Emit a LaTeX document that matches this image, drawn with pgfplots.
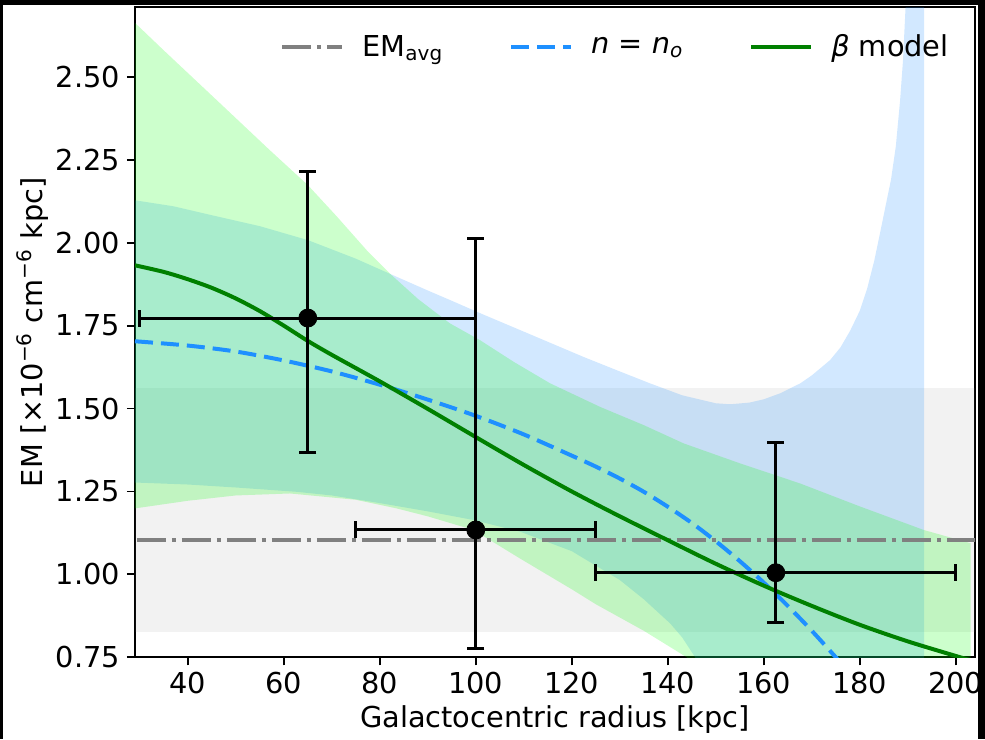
\documentclass[border=0pt]{standalone}
\usepackage{fontspec}
\setmainfont{DejaVu Sans}
\usepackage{pgfplots}
\pgfplotsset{compat=1.18}
\usetikzlibrary{backgrounds}

\definecolor{lime}{RGB}{0,255,0}
\definecolor{dodger}{RGB}{30,144,255}
\definecolor{mplgreen}{RGB}{0,128,0}
\definecolor{mplgray}{RGB}{128,128,128}

\newcommand{\fs}{\fontsize{14.4}{17}\selectfont}

\begin{document}
\begin{tikzpicture}
\begin{axis}[
    name=ax,
    scale only axis,
    width=420pt, height=325pt,
    xmin=29, xmax=204, ymin=0.75, ymax=2.71,
    xtick={40,60,...,200},
    ytick={0.75,1.00,1.25,1.50,1.75,2.00,2.25,2.50},
    yticklabel style={/pgf/number format/.cd, fixed, fixed zerofill, precision=2},
    /pgf/number format/assume math mode=true,
    tick label style={font=\fs},
    label style={font=\fs},
    tick pos=left,
    tick align=outside,
    major tick length=4pt,
    tick style={black, line width=0.9pt},
    axis line style={black, line width=0.9pt},
    xlabel={Galactocentric radius [kpc]},
    ylabel={EM [×10\textsuperscript{−6} cm\textsuperscript{−6} kpc]},
    xlabel style={at={(axis description cs:0.5,-0.0965)}, anchor=center},
    ylabel style={at={(axis description cs:-0.122,0.5)}, anchor=center},
    legend columns=3,
    legend style={draw=none, fill=none, font=\fs,
        at={(rel axis cs:0.981,0.971)}, anchor=north east,
        /tikz/every even column/.append style={column sep=31pt}},
    legend image code/.code={\draw[#1] (0pt,0pt) -- (30pt,0pt); \path (37pt,0pt);},
]

% grey band
\addplot[draw=none, fill=mplgray, fill opacity=0.1, forget plot]
  coordinates {(20,0.826) (210,0.826) (210,1.561) (20,1.561)} -- cycle;

% n = n_o band
\addplot[draw=none, fill=dodger, fill opacity=0.2, forget plot] coordinates {
 (29,2.128) (37,2.110) (45,2.083) (55,2.050) (65,2.008) (75,1.952) (82,1.907)
 (90,1.856) (95,1.825) (101,1.787) (110,1.732) (122.4,1.656) (130,1.612)
 (136.3,1.576) (143,1.540) (150,1.516) (153,1.513) (157,1.518) (160,1.528)
 (163.4,1.546) (167.6,1.576) (170,1.600) (173.8,1.646) (176,1.685)
 (178,1.735) (180,1.795) (181.5,1.860) (183,1.945) (184.2,2.028)
 (185.5,2.120) (186.5,2.190) (187.5,2.290) (188.4,2.430) (189,2.550)
 (189.5,2.700) (190.3,2.950) (191.5,3.300) (193.4,4.000)
 (193.4,0.5) (150,0.5) (147,0.70) (145.7,0.75) (143,0.81) (140.5,0.852)
 (135,0.925) (130,0.983) (120,1.070) (109.2,1.129) (99.5,1.164) (90,1.190)
 (80,1.215) (70,1.238) (62.7,1.249) (50,1.262) (40,1.271) (29,1.277)
} -- cycle;

% beta model band
\addplot[draw=none, fill=lime, fill opacity=0.2, forget plot] coordinates {
 (29,2.663) (35,2.580) (45,2.444) (57.1,2.279) (65,2.174) (71,2.080)
 (77.3,1.977) (82.1,1.907) (88,1.830) (94.6,1.757) (100.9,1.706) (108,1.640)
 (115.5,1.576) (125.9,1.505) (135,1.450) (143.3,1.395) (155,1.335)
 (167.6,1.274) (180,1.205) (193.3,1.134) (203.1,1.094)
 (203.1,0.5) (150,0.5) (146,0.70) (143.95,0.75) (135,0.83) (125,0.91)
 (120,0.955) (109.2,1.048) (99.5,1.134) (90,1.175) (83.5,1.199) (75,1.225)
 (61.3,1.244) (50,1.238) (40,1.222) (29,1.199)
} -- cycle;

% EM average
\addplot[mplgray, line width=2pt, dash pattern=on 14.5pt off 3pt on 2pt off 3pt]
  coordinates {(20,1.1035) (210,1.1035)};
\addlegendentry{EM\textsubscript{avg}}

% n = n_o
\addplot[dodger, line width=2pt, dash pattern=on 9pt off 4pt, smooth] coordinates {
 (29,1.703) (40,1.690) (50,1.672) (60,1.645) (70,1.612) (80,1.572) (90,1.527)
 (100,1.478) (110,1.422) (120,1.358) (125,1.325) (130,1.289) (135,1.249)
 (140,1.204) (145,1.155) (150,1.100) (155,1.040) (160,0.975) (165,0.905)
 (170,0.830) (175,0.750) (177,0.717)
};
\addlegendentry{\textit{n} = \textit{n}\textsubscript{\textit{o}}}

% beta model
\addplot[mplgreen, line width=2pt, smooth] coordinates {
 (29,1.932) (35,1.912) (40,1.890) (45,1.864) (50,1.832) (55,1.794) (60,1.750)
 (65,1.704) (70,1.662) (80,1.582) (90,1.499) (100,1.414) (110,1.330)
 (120,1.250) (130,1.175) (140,1.103) (150,1.032) (160,0.966) (170,0.905)
 (180,0.848) (190,0.798) (200,0.754) (204,0.737)
};
\addlegendentry{\textit{β} model}

% data points
\addplot[black, only marks, mark=*, mark size=4.5pt, forget plot,
  error bars/.cd, x dir=both, x explicit, y dir=both, y explicit,
  error bar style={line width=1.5pt, black},
  error mark options={rotate=90, line width=1.5pt, black, mark size=4.25pt}]
  coordinates {
  (65,1.773)    += (35,0.443)   -= (35,0.405)
  (100,1.134)   += (25,0.879)   -= (25,0.357)
  (162.5,1.005) += (37.5,0.392) -= (37.5,0.151)
};
\end{axis}

\begin{scope}[on background layer]
\fill[black] ([shift={(-67.5pt,-40.85pt)}]ax.south west) rectangle ([shift={(425pt,328.65pt)}]ax.south west);
\fill[white] ([shift={(-66pt,-40.85pt)}]ax.south west) rectangle ([shift={(421.5pt,326.15pt)}]ax.south west);
\end{scope}
\pgfresetboundingbox
\path[use as bounding box] ([shift={(-67.5pt,-40.85pt)}]ax.south west) rectangle ([shift={(425pt,328.65pt)}]ax.south west);
\end{tikzpicture}
\end{document}
